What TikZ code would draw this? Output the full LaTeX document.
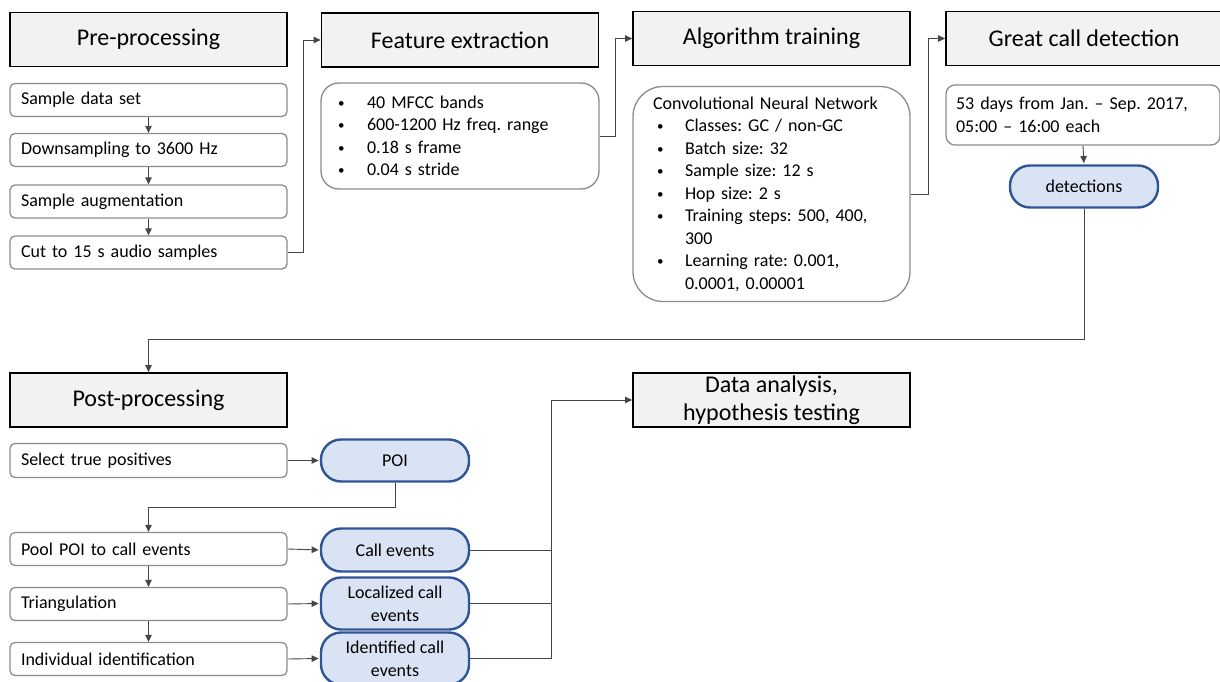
\documentclass[tikz,border=0pt]{standalone}
\usepackage{fontspec}
\setmainfont{Carlito}
\frenchspacing
\usetikzlibrary{arrows.meta,calc}
\newcommand\bodyfont{\fontsize{18}{22.5}\selectfont}
\newcommand\headfont{\fontsize{24}{28}\selectfont}
\newcommand\sbul{{\fontsize{13}{13}\selectfont\raisebox{1pt}{\textbullet}}}
\newcommand\blt[1]{\makebox[29pt][l]{\sbul}#1}
\definecolor{hdrfill}{HTML}{F2F2F2}
\definecolor{ovfill}{HTML}{DAE3F3}
\definecolor{ovline}{HTML}{2F5597}
\definecolor{boxline}{HTML}{8C8C8C}
\definecolor{conn}{HTML}{454545}
\tikzset{
  hdr/.style={draw=black, line width=1.8pt, fill=hdrfill, minimum width=277pt, minimum height=54pt, inner sep=0pt, font=\headfont, align=center},
  stepbox/.style={draw=boxline, line width=1.3pt, rounded corners=5pt, fill=white, minimum width=277pt, minimum height=33pt, inner xsep=11pt, inner ysep=0pt, text width=255pt, align=left, font=\bodyfont},
  listbox/.style={draw=boxline, line width=1.3pt, fill=white, minimum width=278pt, inner ysep=0pt, align=left, font=\bodyfont},
  oval/.style={draw=ovline, line width=2.4pt, fill=ovfill, rounded corners=20pt, minimum width=148pt, minimum height=42pt, inner sep=0pt, align=center, font=\bodyfont},
  link/.style={draw=conn, line width=0.9pt},
  arr/.style={link, -{Triangle[length=7pt,width=6.5pt]}},
  toov/.style={arr, shorten >=1.2pt}
}
\begin{document}
\begin{tikzpicture}[x=1pt,y=-1pt]
\useasboundingbox (0,0) rectangle (1220,682);
% top row headers
\node[hdr] (preh) at (148.5,39.5) {Pre-processing};
\node[hdr] (feath) at (460,40) {Feature extraction};
\node[hdr] (algh) at (771.5,38.5) {Algorithm training};
\node[hdr, minimum width=280pt] (greath) at (1086,38.5) {\hspace*{-4pt}Great call detection};
% pre-processing steps
\node[stepbox] (s1) at (148.5,100) {Sample data set};
\node[stepbox] (s2) at (148.5,150) {Downsampling to 3600 Hz};
\node[stepbox] (s3) at (148.5,201.5) {Sample augmentation};
\node[stepbox] (s4) at (148.5,252.5) {Cut to 15 s audio samples};
% feature box
\node[listbox, rounded corners=18pt, minimum height=106pt, inner xsep=17pt, text width=244pt] (featb) at (460,136)
  {\blt{40 MFCC bands}\\ \blt{600-1200 Hz freq. range}\\ \blt{0.18 s frame}\\ \blt{0.04 s stride}};
% CNN box
\node[listbox, minimum width=277pt, rounded corners=30pt, minimum height=215pt, inner xsep=20pt, text width=237pt] (cnn) at (771.5,194)
  {Convolutional Neural Network\\
   \hspace*{4pt}\makebox[28pt][l]{\sbul}Classes: GC / non-GC\\
   \hspace*{4pt}\makebox[28pt][l]{\sbul}Batch size: 32\\
   \hspace*{4pt}\makebox[28pt][l]{\sbul}Sample size: 12 s\\
   \hspace*{4pt}\makebox[28pt][l]{\sbul}Hop size: 2 s\\
   \hspace*{4pt}\makebox[28pt][l]{\sbul}Training steps: 500, 400,\\
   \hspace*{32pt}300\\
   \hspace*{4pt}\makebox[28pt][l]{\sbul}Learning rate: 0.001,\\
   \hspace*{32pt}0.0001, 0.00001};
% great call detection
\node[listbox, minimum width=274pt, rounded corners=9pt, minimum height=60pt, inner xsep=10pt, text width=254pt] (days) at (1083,115)
  {53 days from Jan. -- Sep. 2017,\\ 05:00 -- 16:00 each};
\node[oval] (det) at (1084,186.5) {detections};
% post-processing
\node[hdr] (posth) at (148.5,400) {Post-processing};
\node[stepbox, minimum height=34pt] (t1) at (148.5,460.5) {Select true positives};
\node[stepbox] (t2) at (148.5,549) {Pool POI to call events};
\node[stepbox] (t3) at (148.5,604) {Triangulation};
\node[stepbox] (t4) at (148.5,659) {Individual identification};
\node[oval] (poi) at (395,460.5) {POI};
\node[oval, minimum height=43pt] (ce) at (395,550) {Call events};
\node[oval, minimum height=52pt, font=\fontsize{18}{23}\selectfont] (lce) at (395,603.5) {Localized call\\events};
\node[oval, minimum height=52pt, font=\fontsize{18}{23}\selectfont] (ice) at (395,658.5) {Identified call\\events};
\node[hdr] (data) at (771.5,400) {Data analysis,\\hypothesis testing};
% connectors
\draw[arr] (s1.south) -- (s2.north);
\draw[arr] (s2.south) -- (s3.north);
\draw[arr] (s3.south) -- (s4.north);
\draw[arr] (s4.east) -- ++(16,0) |- (feath.west);
\draw[arr] (featb.east) -- ++(16,0) |- (algh.west);
\draw[arr] (cnn.east) -- ++(18,0) |- (greath.west);
\draw[toov] (days.south) -- (det.north);
\coordinate (j1) at (1084,339);
\draw[arr] (det.south) -- (j1) -| (posth.north);
\draw[toov] (t1.east) -- (poi.west);
\coordinate (j2) at (395,507);
\draw[arr] (poi.south) -- (j2) -| (t2.north);
\draw[arr] (t2.south) -- (t3.north);
\draw[arr] (t3.south) -- (t4.north);
\draw[toov] (t2.east) -- (ce.west);
\draw[toov] (t3.east) -- (lce.west);
\draw[toov] (t4.east) -- (ice.west);
\coordinate (bus) at (551,400);
\draw[link] (ce.east) -- (ce.east -| bus);
\draw[link] (lce.east) -- (lce.east -| bus);
\draw[arr] (ice.east) -| (bus) -- (data.west);
\end{tikzpicture}
\end{document}
